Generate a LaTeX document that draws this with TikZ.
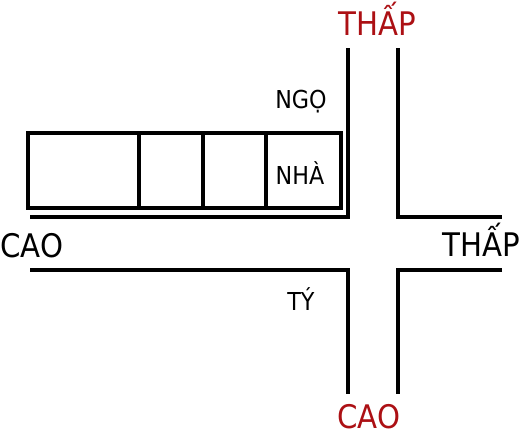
\documentclass[tikz,border=0pt]{standalone}
\usepackage{fontspec}
\setmainfont{DejaVu Sans Condensed}
\definecolor{huong}{RGB}{172,16,20}

\begin{document}
\begin{tikzpicture}[x=1pt,y=-1pt,
  road/.style={line width=3.2pt},
  lon/.style={font=\fontsize{32.5}{32.5}\selectfont, inner sep=0pt, anchor=base},
  nho/.style={font=\fontsize{24.7}{24.7}\selectfont, inner sep=0pt, anchor=base}]
\useasboundingbox (0,0) rectangle (520,434);
% duong
\draw[road] (348,48) -- (348,217) -- (30,217);
\draw[road] (398,48) -- (398,217) -- (502,217);
\draw[road] (30,270) -- (348,270) -- (348,394);
\draw[road] (502,270) -- (398,270) -- (398,394);
% day nha
\draw[road] (28,133) rectangle (341,208);
\foreach \x in {139,203,266}
\draw[road] (\x,133) -- (\x,208);
% chu
\node[lon, text=huong] (thapN) at (377,35) {THẤP};
\node[lon, text=huong] (caoS) at (369,428) {CAO};
\node[lon, anchor=base west] (caoW) at (0,257) {CAO};
\node[lon, anchor=base east] (thapE) at (520,256) {THẤP};
\node[nho] (ngo) at (301,108) {NGỌ};
\node[nho] (nha) at (300,184) {NHÀ};
\node[nho] (ty) at (301,310) {TÝ};
\end{tikzpicture}
\end{document}
